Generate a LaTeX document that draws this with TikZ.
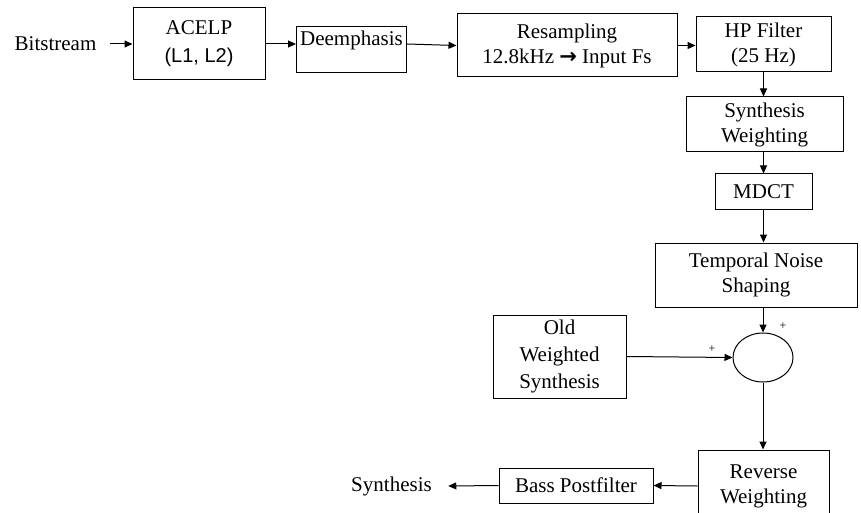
\documentclass[tikz,border=0pt]{standalone}
\usepackage{fontspec}
\setmainfont{Liberation Serif}
\newfontfamily\sansfont{Liberation Sans}
\newfontfamily\symfont{DejaVu Sans}
\usetikzlibrary{arrows.meta,shapes.geometric}
\begin{document}
\begin{tikzpicture}[x=1pt,y=-1pt,
  font=\fontsize{21}{25}\selectfont,
  line width=1pt,
  blk/.style={draw, rectangle, inner sep=0pt, align=center},
  arr/.style={-{Triangle[length=8pt,width=7pt]}},
  sign/.style={font=\fontsize{12}{12}\selectfont, inner sep=0pt}]
\useasboundingbox (0,0) rectangle (861,513);

% top row
\node[inner sep=0pt] (bits) at (55.5,44) {Bitstream};
\node[blk, minimum width=132, minimum height=72] (acelp) at (199,44)
  {ACELP\\[3pt]{\sansfont\fontsize{20}{24}\selectfont (L1, L2)}};
\node[blk, minimum width=110, minimum height=46, anchor=north west,
  label={[inner sep=0pt, yshift=9pt]center:Deemphasis}] (deemph) at (296,26) {};
\node[blk, minimum width=220, minimum height=63] (resamp) at (567,45.5)
  {Resampling\\12.8kHz {\symfont\bfseries\fontsize{21}{21}\selectfont →} Input Fs};
\node[blk, minimum width=135, minimum height=55] (hp) at (763.5,44.5)
  {HP Filter\\(25 Hz)};

% right column
\node[blk, minimum width=157, minimum height=55] (sw) at (764.5,124.5)
  {Synthesis\\Weighting};
\node[blk, minimum width=97, minimum height=35] (mdct) at (763.5,191.5) {MDCT};
\node[blk, minimum width=202, minimum height=64] (tns) at (756,275)
  {Temporal Noise\\Shaping};
\node[draw, ellipse, inner sep=0pt, minimum width=60, minimum height=49] (sum) at (763,357.5) {};
\node[blk, minimum width=133, minimum height=83,
  font=\fontsize{21}{27}\selectfont] (ows) at (559.5,356.5)
  {Old\\Weighted\\Synthesis};
\node[blk, minimum width=131, minimum height=72] (rw) at (763.5,486)
  {Reverse\\Weighting};
\node[blk, minimum width=154, minimum height=35] (bp) at (576,485.5) {Bass Postfilter};
\node[inner sep=0pt] (synth) at (391.5,486) {Synthesis};

% signs at the summing point
\node[sign] (plustop) at (783,326) {+};
\node[sign] (plusleft) at (712,349) {+};

% connectors
\draw[arr] ([xshift=13pt]bits.east) -- (acelp.west);
\draw[arr] (acelp.east) -- (acelp.east -| deemph.west);
\draw[arr] (deemph.east |- acelp.east) -- (resamp.west);
\draw[arr] (resamp.east) -- (resamp.east -| hp.west);
\draw[arr] (hp.south) -- (hp.south |- sw.north);
\draw[arr] (sw.south -| mdct.north) -- (mdct.north);
\draw[arr] (mdct.south) -- (mdct.south |- tns.north);
\draw[arr] (sum.north |- tns.south) -- (sum.north);
\draw[arr] (ows.east) -- (sum.west);
\draw[arr] (sum.south) -- (sum.south |- rw.north);
\draw[arr] (rw.west) -- (bp.east);
\draw[arr] (bp.west) -- ([xshift=16pt]synth.east);
\end{tikzpicture}
\end{document}
